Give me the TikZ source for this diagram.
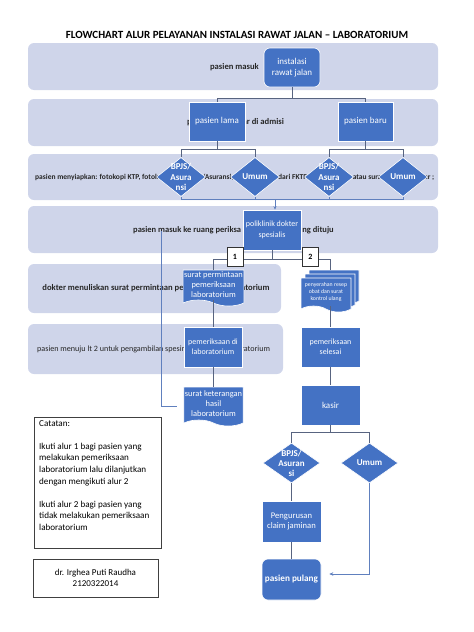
\documentclass[tikz,border=0pt]{standalone}
\usepackage{fontspec}
\setmainfont{Carlito}
\usetikzlibrary{shapes.geometric,shapes.symbols,arrows.meta}
\definecolor{pita}{RGB}{207,213,234}
\definecolor{biru}{RGB}{68,114,196}
\definecolor{garisabu}{RGB}{88,100,128}
\definecolor{garisbiru}{RGB}{96,128,190}

\begin{document}
\begin{tikzpicture}[x=1pt,y=-1pt]
  \tikzstyle{pita}=[fill=pita,rounded corners=6pt]
  \tikzstyle{teks pita}=[font=\bfseries\fontsize{8.6}{10}\selectfont,text=black!85,inner sep=0pt]
  \tikzstyle{kotak}=[rectangle,fill=biru,draw=white,line width=0.6pt,text=white,align=center,inner sep=1pt,font=\fontsize{8.6}{10.5}\selectfont,minimum width=58pt,minimum height=40pt]
  \tikzstyle{kotak bulat}=[kotak,rounded corners=6pt]
  \tikzstyle{dokumen}=[kotak,tape,tape bend top=none,tape bend bottom=out and in,tape bend height=6pt,minimum height=36pt,minimum width=59pt]
  \tikzstyle{putusan}=[diamond,fill=biru,draw=white,line width=0.6pt,inner sep=0pt,minimum width=49pt,minimum height=39pt]
  \tikzstyle{teks putusan}=[text=white,align=center,font=\bfseries\fontsize{9}{10.5}\selectfont,inner sep=0pt]
  \tikzstyle{nomor}=[rectangle,draw=black!80,fill=white,line width=0.6pt,minimum width=16pt,minimum height=19pt,inner sep=0pt,font=\bfseries\fontsize{8}{9}\selectfont]
  \tikzstyle{garis}=[draw=garisabu,line width=0.7pt]
  \tikzstyle{catatan}=[rectangle,draw=black!75,line width=0.7pt,fill=white]

  \useasboundingbox (0,0) rectangle (474,632);

  \node(judul) at (237,35) [font=\bfseries\fontsize{11}{13}\selectfont]
      {FLOWCHART ALUR PELAYANAN INSTALASI RAWAT JALAN -- LABORATORIUM};

  % pita latar
  \fill[pita] (28,43) rectangle (438,90);
  \fill[pita] (28,99) rectangle (438,146);
  \fill[pita] (28,154) rectangle (438,200);
  \fill[pita] (28,206) rectangle (438,253);
  \fill[pita] (28,264) rectangle (281,313);
  \fill[pita] (28,324) rectangle (283,374);

  \node(t1)[teks pita,anchor=east] at (259,67) {pasien masuk};
  \node(t2)[teks pita] at (235.5,122) {pasien mendaftar di admisi};
  \node(t3)[teks pita,anchor=west,font=\bfseries\fontsize{7.5}{9}\selectfont] at (35,177)
      {pasien menyiapkan: fotokopi KTP, fotokopi kartu BPJS/Asuransi, surat rujukan dari FKTP/klinik/RS lain atau surat kontrol dokter ;};
  \node(t4)[teks pita,anchor=west,font=\bfseries\fontsize{8.5}{10}\selectfont] at (133,230) {pasien masuk ke ruang periksa - poli spesialis yang dituju};
  \node(t5)[teks pita] at (156,288) {dokter menuliskan surat permintaan pemeriksaan laboratorium};
  \node(t6)[teks pita,anchor=west,font=\fontsize{8.1}{10}\selectfont] at (37,349)
      {pasien menuju lt 2 untuk pengambilan spesimen darah di laboratorium};

  % alur atas
  \node(inst)[kotak bulat,minimum width=56pt,minimum height=39pt,font=\fontsize{9}{10.5}\selectfont] at (292,67.5) {instalasi\\rawat jalan};
  \node(lama)[kotak,minimum width=56pt,minimum height=39pt,font=\fontsize{9}{10.5}\selectfont] at (217,121.5) {pasien lama};
  \node(baru)[kotak,minimum width=55pt,minimum height=39pt,font=\fontsize{9}{10.5}\selectfont] at (365.5,121.5) {pasien baru};

  \node(bpjsA)[putusan,label={[teks putusan]center:BPJS/\\Asura\\nsi}] at (181,177) {};
  \node(umumA)[putusan,label={[teks putusan]center:Umum}] at (255,177) {};
  \node(bpjsB)[putusan,label={[teks putusan]center:BPJS/\\Asura\\nsi}] at (329,177) {};
  \node(umumB)[putusan,label={[teks putusan]center:Umum}] at (403,177) {};

  \node(poli)[kotak,font=\fontsize{8}{10.5}\selectfont] at (272,230) {poliklinik dokter\\spesialis};

  \draw[garis] (inst.south) -- ++(0,11) -| (lama.north);
  \draw[garis] (inst.south) -- ++(0,11) -| (baru.north);
  \draw[garis] (lama.south) -- ++(0,8) -| (bpjsA.north);
  \draw[garis] (lama.south) -- ++(0,8) -| (umumA.north);
  \draw[garis] (baru.south) -- ++(0,8) -| (bpjsB.north);
  \draw[garis] (baru.south) -- ++(0,8) -| (umumB.north);

  \coordinate(gabung) at (275,199.5);
  \draw[garis,draw=garisbiru] (bpjsA.south) |- (gabung) -| (umumB.south);
  \draw[garis,draw=garisbiru] (umumA.south) -- (umumA.south |- gabung);
  \draw[garis,draw=garisbiru] (bpjsB.south) -- (bpjsB.south |- gabung);
  \draw[garis,draw=garisbiru,-{Stealth[length=3.5pt,width=3pt]}] (gabung) -- (gabung |- poli.north);

  % alur 1
  \node(minta)[dokumen,font=\fontsize{8.4}{10}\selectfont] at (213.5,285) {surat permintaan\\pemeriksaan\\laboratorium};
  \node(pemlab)[kotak,font=\fontsize{8}{10}\selectfont] at (213,347) {pemeriksaan di\\laboratorium};
  \node(ket)[dokumen,minimum height=39pt,font=\fontsize{8.4}{10}\selectfont] at (213.5,403.5) {surat keterangan\\hasil\\laboratorium};

  % alur 2
  \node(resepC)[dokumen,minimum width=50pt,minimum height=34pt] at (334,284) {};
  \node(resepB)[dokumen,minimum width=50pt,minimum height=34pt] at (330,288) {};
  \node(resep)[dokumen,minimum width=50pt,minimum height=34pt,font=\fontsize{5.8}{7}\selectfont] at (326,292) {penyerahan resep\\obat dan surat\\kontrol ulang};
  \node(selesai)[kotak,minimum width=59pt,font=\fontsize{8}{10}\selectfont] at (330.5,347) {pemeriksaan\\selesai};
  \node(kasir)[kotak,minimum width=59pt,font=\fontsize{9}{10.5}\selectfont] at (330.5,405) {kasir};

  \draw[garis] (poli.south) -- ++(0,9) -| (minta.north);
  \draw[garis] (poli.south) -- ++(0,9) -| ([xshift=-4pt]resepC.north);
  \node(n1)[nomor] at (235,256.5) {1};
  \node(n2)[nomor] at (310.5,256.5) {2};

  \draw[garis] (minta.south -| pemlab.north) -- (pemlab.north);
  \draw[garis] (pemlab.south) -- (pemlab.south |- ket.north);
  \draw[garis] (selesai.north |- resep.south) -- (selesai.north);
  \draw[garis] (selesai.south) -- (kasir.north);

  \coordinate(awalKiri) at (161.5,231);
  \coordinate(akhirKiri) at (177,406);
  \draw[garis,draw=garisbiru] (awalKiri) |- (akhirKiri);

  % pembayaran
  \node(bpjsC)[putusan,minimum width=57pt,minimum height=40pt,label={[teks putusan,font=\bfseries\fontsize{9}{10}\selectfont]center:BPJS/\\Asuran\\si}] at (291.5,463) {};
  \node(umumC)[putusan,minimum width=57pt,minimum height=40pt,label={[teks putusan]center:Umum}] at (369.5,463) {};
  \node(klaim)[kotak,minimum width=59pt,minimum height=41pt] at (291.5,521.5) {Pengurusan\\claim jaminan};
  \node(pulang)[kotak bulat,minimum width=59pt,minimum height=41pt,font=\bfseries\fontsize{9.2}{10.5}\selectfont] at (291.5,579.5) {pasien pulang};

  \draw[garis] (kasir.south) -- ++(0,7) -| (bpjsC.north);
  \draw[garis] (kasir.south) -- ++(0,7) -| (umumC.north);
  \draw[garis] (bpjsC.south) -- (klaim.north);
  \draw[garis] (klaim.south) -- (pulang.north);
  \draw[garis,draw=garisbiru,-{Stealth[length=4pt,width=3.5pt]}] (umumC.south) |- ([xshift=8pt,yshift=5.5pt]pulang.east);

  % catatan
  \node(catat)[catatan,minimum width=127pt,minimum height=131pt] at (97.5,482.5) {};
  \node(isi)[anchor=north west,align=left,inner sep=0pt,font=\fontsize{9.1}{11.6}\selectfont] at (39,420)
      {Catatan:\\[11.6pt]Ikuti alur 1 bagi pasien yang\\melakukan pemeriksaan\\laboratorium lalu dilanjutkan\\dengan mengikuti alur 2\\[11.6pt]Ikuti alur 2 bagi pasien yang\\tidak melakukan pemeriksaan\\laboratorium};
  \node(nama)[catatan,minimum width=125pt,minimum height=38pt,align=center,font=\fontsize{9}{11}\selectfont] at (95.5,578) {dr. Irghea Puti Raudha\\2120322014};

\end{tikzpicture}
\end{document}
